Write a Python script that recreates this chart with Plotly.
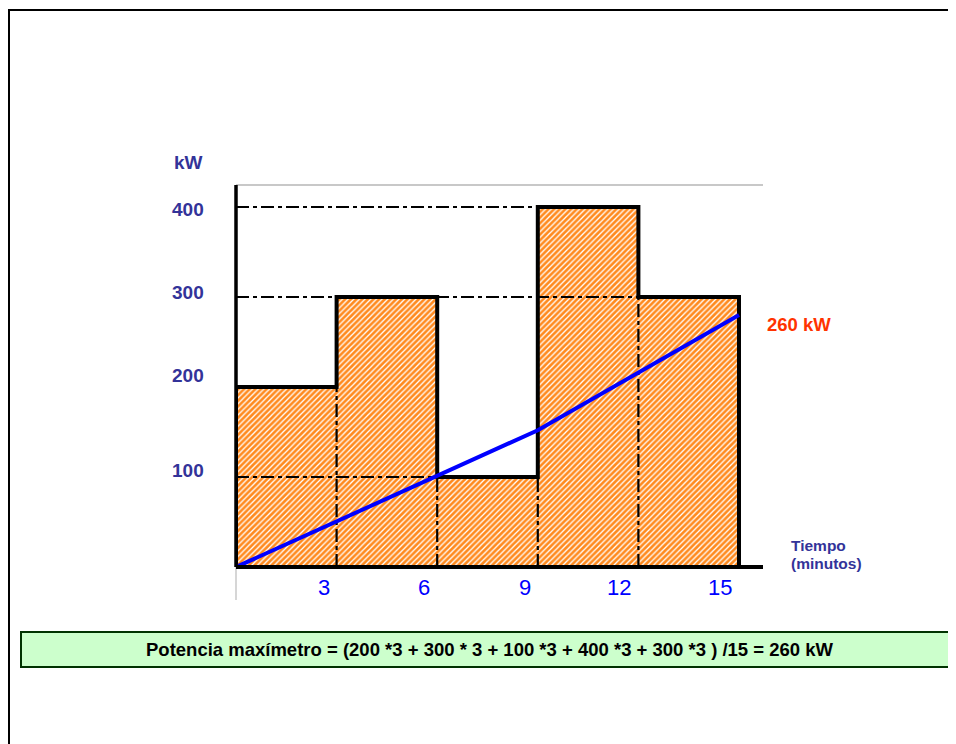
import plotly.graph_objects as go

# ---- data ----
interval_start = [0, 3, 6, 9, 12]          # minutes
interval_len = 3
power_kw = [200, 300, 100, 400, 300]       # kW in each 3-min interval
x_tick_labels = ["3", "6", "9", "12", "15"]
x_tick_vals = [3, 6, 9, 12, 15]
y_tick_labels = ["400", "300", "200", "100"]
y_tick_vals = [400, 300, 200, 100]
trend_minutes = [0, 9, 15]                 # blue line
trend_kw = [0, 152, 280]
result_label = "260 kW"
x_title_lines = ["Tiempo", "(minutos)"]
formula = "Potencia maxímetro = (200 *3 + 300 * 3 + 100 *3 + 400 *3 + 300 *3 ) /15 = 260 kW"

# ---- layout geometry (page pixels; page body adds an 8px offset) ----
W, H = 956, 744
OFF = 8
PL, PR, PT, PB = 236, 763, 185, 567        # plot area edges on the page
L, T = PL - OFF, PT - OFF
R, B = W - (PR - OFF), H - (PB - OFF)
PW, PH = PR - PL, PB - PT
def px(x):
    return (x - PL) / PW
def py(y):
    return (PB - y) / PH

FONT = "Arial, Liberation Sans, sans-serif"
INDIGO = "#333399"

fig = go.Figure()

# hatched bars
fig.add_trace(go.Bar(
    x=[s + interval_len / 2 for s in interval_start], y=power_kw, width=interval_len,
    marker=dict(color="#FF8A1E", line=dict(width=0),
                pattern=dict(shape="/", fgcolor="white", bgcolor="#FF8A1E",
                             size=4, solidity=0.33, fillmode="replace")),
    hoverinfo="skip", showlegend=False))

# dash-dot guide lines
dd = dict(color="black", width=2.2, dash="13px,4px,4px,4px")
ends = [s + interval_len for s in interval_start]
h_guides = [(400, interval_start[4]), (300, interval_start[4]), (100, interval_start[2])]
for lvl, xe in h_guides:
    fig.add_trace(go.Scatter(x=[0, xe], y=[lvl, lvl], mode="lines", line=dd,
                             hoverinfo="skip", showlegend=False, cliponaxis=False))
for i in range(1, len(power_kw)):
    xb = interval_start[i]
    top = min(power_kw[i - 1], power_kw[i])
    fig.add_trace(go.Scatter(x=[xb, xb], y=[0, top], mode="lines", line=dd,
                             hoverinfo="skip", showlegend=False, cliponaxis=False))

# bar outline (step profile)
ox, oy = [0], [0]
for s, v in zip(interval_start, power_kw):
    ox += [s, s + interval_len]
    oy += [v, v]
ox += [ends[-1]]
oy += [0]
fig.add_trace(go.Scatter(x=ox, y=oy, mode="lines", line=dict(color="black", width=4),
                         hoverinfo="skip", showlegend=False, cliponaxis=False))

# blue line
fig.add_trace(go.Scatter(x=trend_minutes, y=trend_kw, mode="lines",
                         line=dict(color="#0000FF", width=4),
                         hoverinfo="skip", showlegend=False, cliponaxis=False))

shapes = [
    dict(type="line", xref="paper", yref="paper", x0=0, x1=1, y0=1, y1=1,
         line=dict(color="#C8C8C8", width=2)),
    dict(type="line", xref="paper", yref="paper", x0=0, x1=0, y0=0, y1=1,
         line=dict(color="black", width=3.5)),
    dict(type="line", xref="paper", yref="paper", x0=0, x1=0, y0=py(600), y1=0,
         line=dict(color="#C8C8C8", width=1.5)),
    dict(type="line", xref="paper", yref="paper", x0=0, x1=1, y0=0, y1=0,
         line=dict(color="black", width=4)),
    # page frame
    dict(type="line", xref="paper", yref="paper", x0=px(9), x1=px(9), y0=py(10), y1=py(770),
         line=dict(color="black", width=2)),
    dict(type="line", xref="paper", yref="paper", x0=px(8), x1=px(980), y0=py(10), y1=py(10),
         line=dict(color="black", width=2)),
    # formula box
    dict(type="rect", xref="paper", yref="paper", x0=px(21), x1=px(985), y0=py(667), y1=py(632),
         fillcolor="#CCFFCC", line=dict(color="#003300", width=2)),
]

def A(**kw):
    d = dict(showarrow=False, xanchor="center", yanchor="middle")
    d.update(kw)
    return d

ann = []
ann.append(A(xref="paper", yref="paper", x=px(188), y=py(162), text="<b>kW</b>",
             font=dict(family=FONT, size=19, color=INDIGO)))
y_shift = [-2, 5, 12, 7]
for lab, v, sh in zip(y_tick_labels, y_tick_vals, y_shift):
    ann.append(A(xref="paper", yref="y", x=px(188), y=v, yshift=sh, text="<b>" + lab + "</b>",
                 font=dict(family=FONT, size=19, color=INDIGO)))
for lab, v in zip(x_tick_labels, x_tick_vals):
    ann.append(A(xref="x", yref="paper", x=v, y=py(587), xanchor="right", xshift=-5,
                 text=lab, font=dict(family=FONT, size=22, color="#0000FF")))
for line_txt, yy in zip(x_title_lines, [545, 563]):
    ann.append(A(xref="paper", yref="paper", x=px(789), y=py(yy), xanchor="left",
                 text="<b>" + line_txt + "</b>", font=dict(family=FONT, size=15.5, color=INDIGO)))
ann.append(A(xref="paper", yref="paper", x=px(765), y=py(324), xanchor="left",
             text="<b>" + result_label + "</b>",
             font=dict(family=FONT, size=18.5, color="#FF3300")))
ann.append(A(xref="paper", yref="paper", x=px(490), y=py(649),
             text="<b>" + formula + "</b>",
             font=dict(family=FONT, size=18.5, color="black")))

x_max = ends[-1] * (PR - PL) / (739 - PL)
y_max = 400 * (PB - PT) / (PB - 207)

fig.update_layout(
    width=W, height=H, margin=dict(l=L, r=R, t=T, b=B),
    paper_bgcolor="white", plot_bgcolor="white",
    xaxis=dict(range=[0, x_max], visible=False, fixedrange=True),
    yaxis=dict(range=[0, y_max], visible=False, fixedrange=True),
    shapes=shapes, annotations=ann, bargap=0, showlegend=False,
)

fig.write_html("out.html")
